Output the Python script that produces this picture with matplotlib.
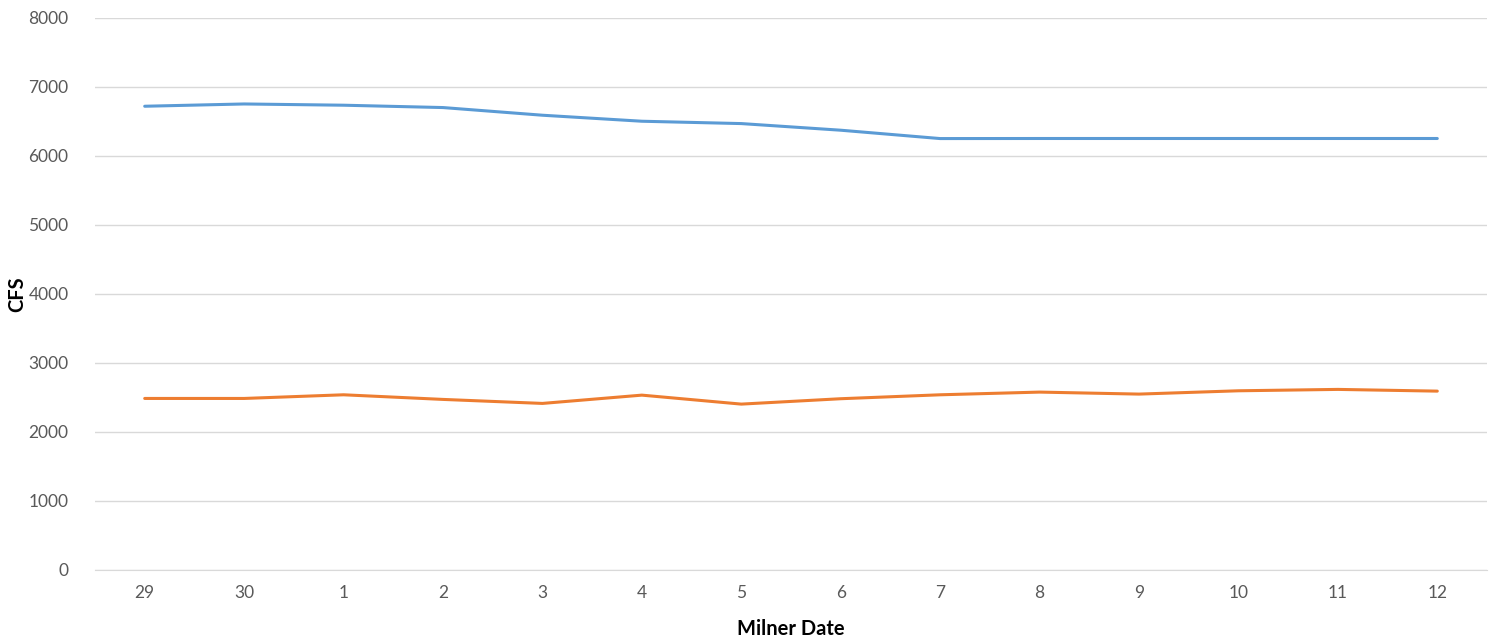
import matplotlib.pyplot as plt

# Milner flow readings (CFS)
dates = ['29', '30', '1', '2', '3', '4', '5', '6', '7', '8', '9', '10', '11', '12']
series_blue = [6715, 6748, 6730, 6696, 6585, 6498, 6464, 6368, 6247, 6248, 6248, 6248, 6248, 6248]
series_orange = [2484, 2484, 2537, 2470, 2412, 2532, 2402, 2480, 2537, 2576, 2547, 2595, 2615, 2590]

plt.rcParams['font.family'] = ['Lato', 'DejaVu Sans']

fig = plt.figure(figsize=(14.99, 6.41), dpi=100)
ax = fig.add_axes([95 / 1499, 1 - 570 / 641, (1487 - 95) / 1499, (570 - 17.5) / 641])

x = range(len(dates))
ax.plot(x, series_blue, color='#5B9BD5', linewidth=2.2, solid_capstyle='round')
ax.plot(x, series_orange, color='#ED7D31', linewidth=2.2, solid_capstyle='round')

ax.set_xlim(-0.5, len(dates) - 0.5)
ax.set_ylim(0, 8000)
ax.set_yticks(range(0, 8001, 1000))
ax.set_xticks(list(x))
ax.set_xticklabels(dates)

ax.grid(axis='y', color='#D9D9D9', linewidth=1)
ax.set_axisbelow(True)
for side in ['top', 'right', 'left']:
    ax.spines[side].set_visible(False)
ax.spines['bottom'].set_color('#D9D9D9')
ax.tick_params(axis='both', length=0, labelsize=12.5, colors='#595959')
ax.tick_params(axis='x', pad=11)
ax.tick_params(axis='y', pad=19)

ax.set_xlabel('Milner Date', fontsize=14.5, fontweight='bold')
ax.set_ylabel('CFS', fontsize=14.5, fontweight='bold')
ax.xaxis.set_label_coords(0.5, -(629 - 570) / 552.5, transform=ax.transAxes)
ax.yaxis.set_label_coords((17 - 95) / 1392, 0.5, transform=ax.transAxes)
ax.xaxis.label.set_va('center')
ax.yaxis.label.set_va('center')

plt.savefig('out.png', dpi=100)
